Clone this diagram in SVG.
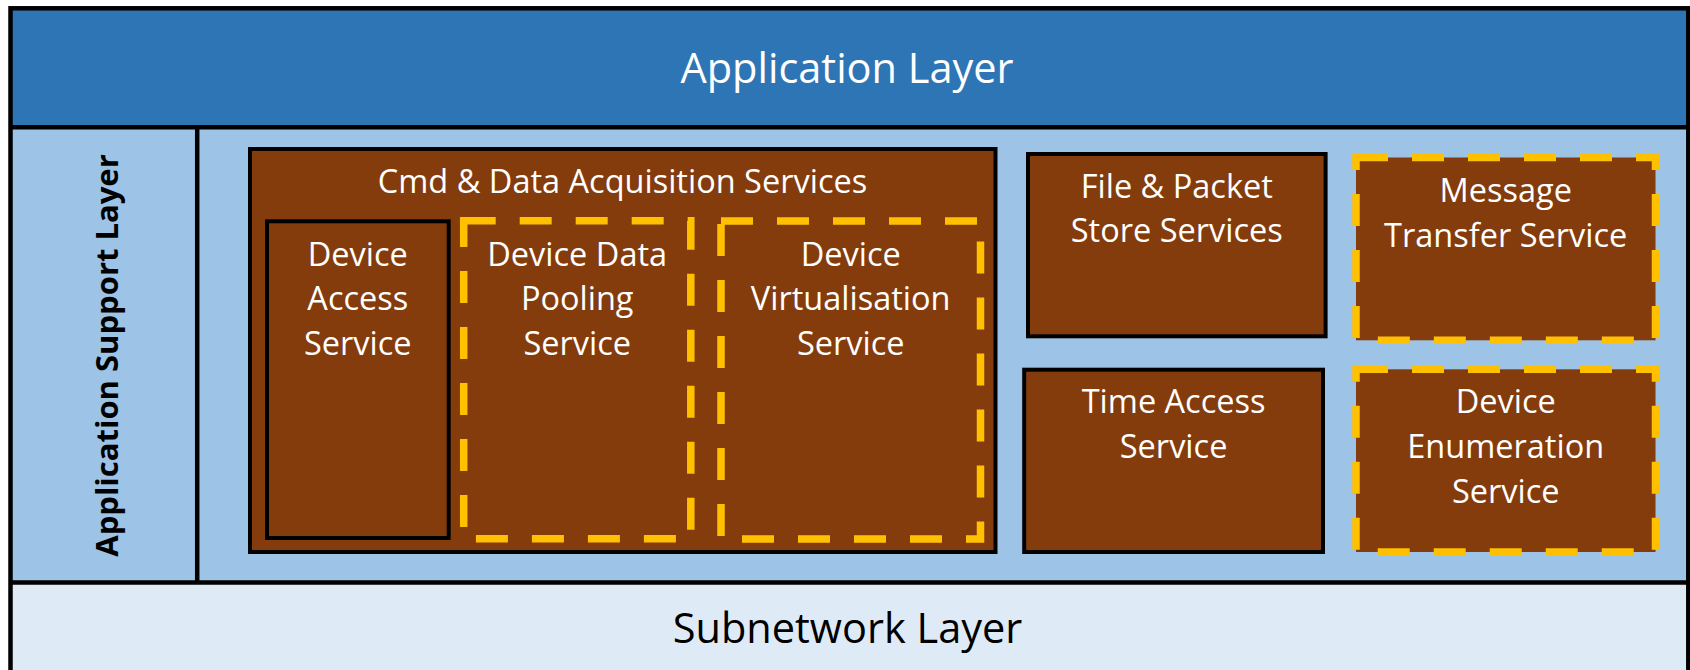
<svg xmlns="http://www.w3.org/2000/svg" width="1690" height="670" viewBox="0 0 1690 670">
  <style>
    .lbl { font-family: "Open Sans", "Noto Sans", sans-serif; font-size: 32.5px; fill: #FFFFFF; text-anchor: middle; }
    .layer { font-family: "Open Sans", "Noto Sans", sans-serif; font-size: 41.5px; text-anchor: middle; }
    .svc { fill: #843C0C; stroke: #000000; stroke-width: 4; }
    .opt { fill: #843C0C; stroke: #FFC000; stroke-width: 7.5; stroke-dasharray: 32 24; }
    .rule { stroke: #000000; stroke-width: 4.5; fill: none; }
  </style>

  <rect x="0" y="0" width="1690" height="670" fill="#FFFFFF"/>

  <!-- layer bands -->
  <g id="application-layer">
    <rect x="10.5" y="8.3" width="1677.8" height="118.9" fill="#2E75B6"/>
    <text class="layer" x="847" y="83.3" fill="#FFFFFF">Application Layer</text>
  </g>

  <g id="application-support-layer">
    <rect x="10.5" y="127.2" width="186.7" height="455.3" fill="#9DC3E6"/>
    <rect x="197.2" y="127.2" width="1491" height="455.3" fill="#9DC3E6"/>
    <text transform="translate(117.5 355.5) rotate(-90)" text-anchor="middle"
          font-family="Open Sans, Noto Sans, sans-serif" font-size="31" font-weight="700" fill="#000000">Application Support Layer</text>
  </g>

  <g id="subnetwork-layer">
    <rect x="10.5" y="582.5" width="1677.8" height="100" fill="#DEEBF7"/>
    <text class="layer" x="847.5" y="643.3" fill="#000000" font-size="41">Subnetwork Layer</text>
  </g>

  <!-- band borders -->
  <g id="band-borders">
    <rect class="rule" x="10.5" y="8.3" width="1677.8" height="680"/>
    <line class="rule" x1="10.5" y1="127.2" x2="1688.3" y2="127.2"/>
    <line class="rule" x1="10.5" y1="582.5" x2="1688.3" y2="582.5"/>
    <line class="rule" x1="197.2" y1="127.2" x2="197.2" y2="582.5"/>
  </g>

  <!-- command and data acquisition group -->
  <g id="cmd-data-acquisition">
    <rect class="svc" x="250" y="149" width="745.5" height="403" stroke-width="3.5"/>
    <text class="lbl" x="622.5" y="192.5">Cmd &amp; Data Acquisition Services</text>
  </g>

  <g id="device-access">
    <rect class="svc" x="267" y="221.3" width="181.7" height="316.7"/>
    <text class="lbl" x="357.8" y="265.5">Device</text>
    <text class="lbl" x="357.8" y="310">Access</text>
    <text class="lbl" x="357.8" y="354.5">Service</text>
  </g>

  <g id="device-data-pooling">
    <rect class="opt" x="463.7" y="220.8" width="227.1" height="318"/>
    <text class="lbl" x="577.2" y="265.5">Device Data</text>
    <text class="lbl" x="577.2" y="310">Pooling</text>
    <text class="lbl" x="577.2" y="354.5">Service</text>
  </g>

  <g id="device-virtualisation">
    <rect class="opt" x="721" y="221" width="259.5" height="318"/>
    <text class="lbl" x="850.7" y="265.5">Device</text>
    <text class="lbl" x="850.7" y="310">Virtualisation</text>
    <text class="lbl" x="850.7" y="354.5">Service</text>
  </g>

  <!-- right-hand services -->
  <g id="file-packet-store">
    <rect class="svc" x="1028" y="154" width="297.6" height="182.3" stroke-width="4.3"/>
    <text class="lbl" x="1176.8" y="198.3">File &amp; Packet</text>
    <text class="lbl" x="1176.8" y="242.3">Store Services</text>
  </g>

  <g id="time-access">
    <rect class="svc" x="1024.2" y="369.7" width="298.8" height="182.3" stroke-width="4.3"/>
    <text class="lbl" x="1173.6" y="413.3">Time Access</text>
    <text class="lbl" x="1173.6" y="458.3">Service</text>
  </g>

  <g id="message-transfer">
    <rect class="opt" x="1356" y="157.5" width="299.5" height="182.8"/>
    <text class="lbl" x="1505.7" y="201.7">Message</text>
    <text class="lbl" x="1505.7" y="246.7">Transfer Service</text>
  </g>

  <g id="device-enumeration">
    <rect class="opt" x="1356" y="369.3" width="299.5" height="182.7"/>
    <text class="lbl" x="1505.7" y="413.3">Device</text>
    <text class="lbl" x="1505.7" y="458.3">Enumeration</text>
    <text class="lbl" x="1505.7" y="502.7">Service</text>
  </g>

  <g id="connectors"/>
</svg>
